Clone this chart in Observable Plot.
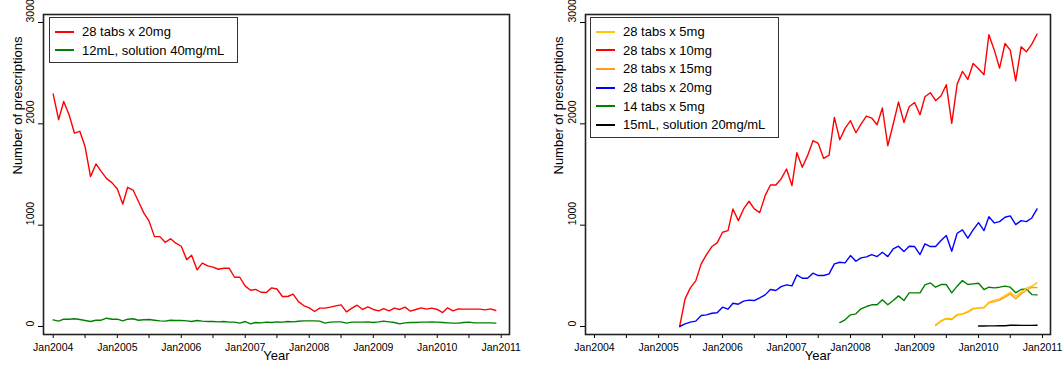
<!DOCTYPE html>
<html><head><meta charset="utf-8">
<script src="https://cdn.jsdelivr.net/npm/d3@7"></script>
<script src="https://cdn.jsdelivr.net/npm/@observablehq/plot@0.6"></script>
<style>
body{margin:0;background:#fff;font-family:"Liberation Sans",Arial,sans-serif;}
#wrap{position:relative;width:1063px;height:365px;display:flex;}
#wrap svg{display:block;}
.legend{position:absolute;border:1.3px solid #333;background:#fff;padding:4.5px 0 2.5px 0;font-size:13px;box-sizing:border-box;width:189px;color:#000;}
.row{display:flex;align-items:center;height:18.6px;white-space:nowrap;}
.swatch{display:block;width:19px;height:2px;margin-left:5px;margin-right:8px;}
</style></head><body><div id="wrap"></div>
<script>
// ---- tick labels ----
const tickYears = [2004, 2005, 2006, 2007, 2008, 2009, 2010, 2011];
const tickLabels = ["Jan2004", "Jan2005", "Jan2006", "Jan2007", "Jan2008", "Jan2009", "Jan2010", "Jan2011"];
const yTicks = [0, 1000, 2000, 3000];

// ---- left panel series (monthly, start Jan 2004) ----
const leftNames = ["28 tabs x 20mg", "12mL, solution 40mg/mL"];
const leftColors = ["#ff0000", "#008000"];
const leftStart = [0, 0]; // month offsets from Jan 2004
const left20mg = [2294, 2041, 2221, 2087, 1909, 1926, 1774, 1479, 1604, 1531, 1459, 1420,
  1357, 1209, 1374, 1347, 1236, 1121, 1040, 887, 887, 831, 866, 822,
  792, 660, 703, 559, 626, 598, 586, 565, 575, 575, 486, 486,
  398, 358, 366, 338, 335, 381, 370, 296, 296, 319, 246, 207,
  184, 148, 181, 181, 191, 204, 214, 145, 181, 210, 168, 194,
  168, 154, 177, 154, 181, 168, 191, 151, 168, 184, 171, 181,
  168, 138, 184, 154, 174, 171, 171, 171, 171, 164, 174, 158];
const leftSol40 = [66, 53, 72, 72, 76, 69, 59, 49, 62, 62, 82, 72,
  72, 56, 72, 76, 62, 66, 69, 62, 56, 53, 62, 59,
  59, 56, 49, 59, 53, 49, 49, 46, 49, 43, 43, 33,
  49, 26, 39, 36, 43, 39, 46, 43, 49, 46, 52, 56,
  56, 56, 53, 33, 43, 46, 46, 33, 43, 43, 43, 46,
  40, 46, 53, 46, 39, 26, 36, 40, 39, 43, 43, 46,
  43, 39, 36, 33, 33, 40, 43, 36, 36, 36, 36, 33];

// ---- right panel series ----
const rightNames = ["28 tabs x 5mg", "28 tabs x 10mg", "28 tabs x 15mg", "28 tabs x 20mg", "14 tabs x 5mg", "15mL, solution 20mg/mL"];
const rightColors = ["#ffc800", "#ff0000", "#ff9a1f", "#0000ff", "#008000", "#000000"];
const rightStart = [64, 16, 64, 16, 46, 72]; // month offsets from Jan 2004
const rightDrawOrder = [1, 3, 4, 5, 2, 0];
const right5mg = [16, 59, 82, 76, 118, 125, 148, 181, 184, 191, 240, 260, 273, 306, 338, 299, 338, 378, 398, 430];
const right10mg = [0, 273, 381, 450, 618, 710, 789, 825, 930, 946, 1160, 1045,
  1160, 1236, 1160, 1124, 1291, 1397, 1397, 1456, 1554, 1390, 1715, 1571,
  1686, 1834, 1807, 1659, 1692, 2064, 1843, 1955, 2031, 1912, 1998, 2077,
  2057, 1991, 2156, 1784, 1998, 2215, 2014, 2169, 2211, 2090, 2267, 2307,
  2228, 2277, 2386, 2004, 2392, 2517, 2438, 2596, 2543, 2484, 2879, 2727,
  2550, 2793, 2727, 2425, 2760, 2711, 2787, 2885];
const right15mg = [10, 53, 76, 69, 112, 122, 141, 174, 181, 184, 233, 246, 260, 289, 322, 273, 322, 355, 388, 384];
const right20mg = [0, 26, 43, 53, 108, 115, 131, 135, 191, 171, 230, 220,
  250, 260, 256, 283, 312, 365, 355, 394, 411, 401, 509, 476,
  476, 526, 503, 503, 519, 618, 634, 628, 700, 644, 677, 687,
  710, 690, 733, 690, 766, 792, 739, 792, 789, 710, 815, 789,
  789, 848, 897, 743, 920, 953, 871, 953, 1025, 946, 1084, 1022,
  1035, 1078, 1091, 1006, 1045, 1035, 1071, 1160];
const right14x5 = [39, 66, 115, 125, 174, 197, 214, 214, 263, 214, 256, 302,
  256, 332, 332, 332, 411, 430, 388, 414, 414, 332, 398, 453,
  414, 421, 427, 365, 388, 381, 388, 398, 388, 332, 365, 371, 315, 312];
const rightSol20 = [5, 5, 6, 6, 7, 8, 12, 12, 11, 11, 11, 12];

function monthDate(offset) { return new Date(Date.UTC(2004, offset, 1)); }

function buildRows(names, starts, valueLists, order) {
  return order.flatMap(k => valueLists[k].map((v, i) => ({
    date: monthDate(starts[k] + i), value: v, name: names[k]
  })));
}

const xTickDates = tickYears.map(y => new Date(Date.UTC(y, 0, 1)));
const halfYearTicks = d3.utcMonth.every(6).range(new Date(Date.UTC(2004, 0, 1)), new Date(Date.UTC(2011, 0, 2)));
const FONT = "'Liberation Sans', Arial, sans-serif";

function panel(rows, names, colors, g) {
  return Plot.plot({
    width: g.width, height: 365,
    marginLeft: g.ml, marginRight: g.mr, marginTop: 14, marginBottom: 31,
    x: {type: "utc", domain: [xTickDates[0], xTickDates[xTickDates.length - 1]], insetLeft: g.il, insetRight: g.ir},
    y: {domain: [0, 3000], insetTop: 8, insetBottom: 8},
    color: {domain: names, range: colors},
    style: {fontFamily: FONT, background: "white", color: "black"},
    marks: [
      Plot.axisX({ticks: halfYearTicks, tickSize: 4, tickFormat: () => "", label: null}),
      Plot.text(xTickDates, {x: d => d, text: (d, i) => tickLabels[i], frameAnchor: "bottom", dy: 16, fontSize: 10.5}),
      Plot.axisY({ticks: yTicks, tickSize: 5, tickFormat: () => "", label: null}),
      Plot.text(yTicks, {y: d => d, text: d => String(d), frameAnchor: "left", dx: -13, rotate: -90, fontSize: 10.5}),
      Plot.text(["Year"], {frameAnchor: "bottom", dy: 25, fontSize: 13}),
      Plot.text(["Number of prescriptions"], {frameAnchor: "left", dx: g.ylabDx, rotate: -90, fontSize: 13}),
      Plot.line(rows, {x: "date", y: "value", z: "name", stroke: "name", strokeWidth: 1.4}),
      Plot.frame({stroke: "#222", strokeWidth: 1.6})
    ]
  });
}

function legend(names, colors, leftPx, topPx) {
  const div = document.createElement("div");
  div.className = "legend";
  div.style.left = leftPx + "px";
  div.style.top = topPx + "px";
  names.forEach((n, i) => {
    const r = document.createElement("div");
    r.className = "row";
    const sw = document.createElement("span");
    sw.className = "swatch";
    sw.style.background = colors[i];
    const t = document.createElement("span");
    t.textContent = n;
    r.appendChild(sw); r.appendChild(t);
    div.appendChild(r);
  });
  return div;
}

const wrap = document.getElementById("wrap");
const leftRows = buildRows(leftNames, leftStart, [left20mg, leftSol40], [0, 1]);
const rightRows = buildRows(rightNames, rightStart, [right5mg, right10mg, right15mg, right20mg, right14x5, rightSol20], rightDrawOrder);

wrap.appendChild(panel(leftRows, leftNames, leftColors, {width: 531, ml: 43, mr: 22, il: 9.7, ir: 8.3, ylabDx: -26}));
wrap.appendChild(panel(rightRows, rightNames, rightColors, {width: 532, ml: 54, mr: 13, il: 9, ir: 8, ylabDx: -27}));
wrap.appendChild(legend(leftNames, leftColors, 49, 17));
wrap.appendChild(legend(rightNames, rightColors, 590, 17));
</script>
</body></html>
